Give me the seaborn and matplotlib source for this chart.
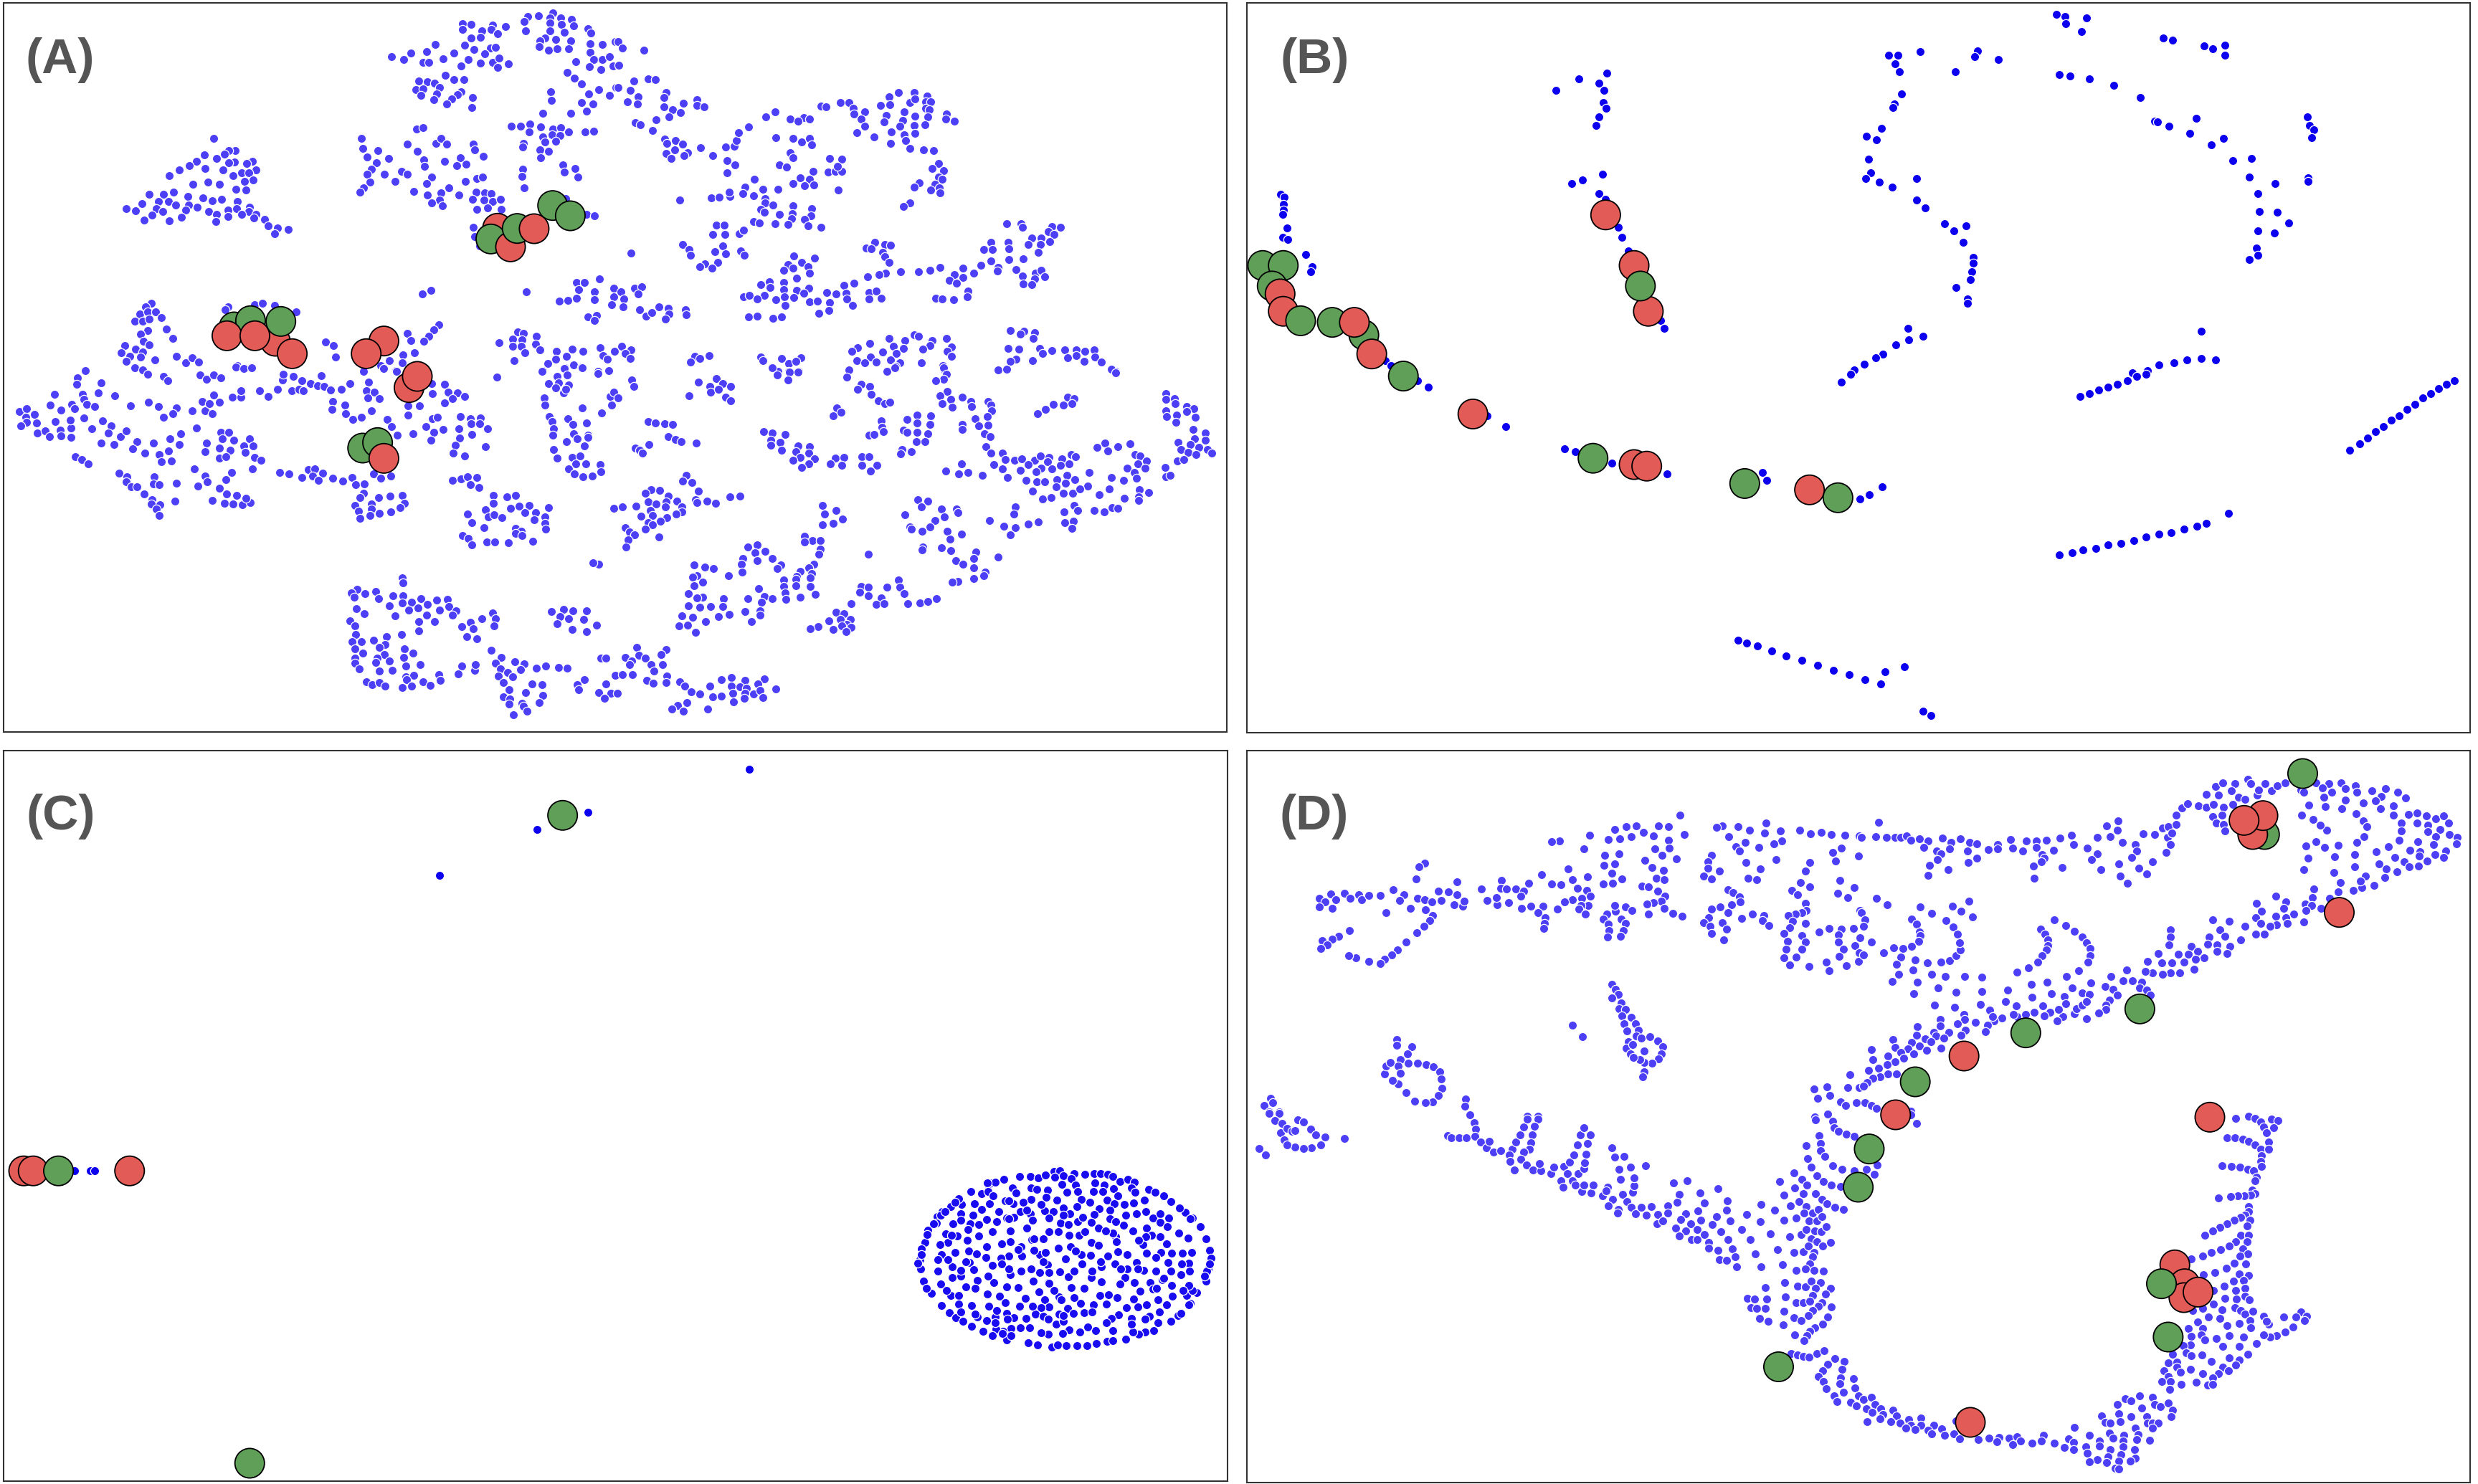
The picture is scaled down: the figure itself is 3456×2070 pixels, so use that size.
"""
Four embedding scatter panels (A-D) with blue background points and
highlighted red / green samples. Values are read off the reference picture,
each list in the scale of the crop it was read from.
"""
import matplotlib
matplotlib.use('Agg')
import matplotlib.pyplot as plt
import pandas as pd
import seaborn as sns

sns.set_theme(style='white')
plt.rcParams['font.family'] = ['Liberation Sans', 'DejaVu Sans']

# -------------------------------
# Panel A points
# -------------------------------
a_tl = [(1175,98),(1198,102),(1175,124),(1253,105),(1248,122),(1285,112),(1225,130),(1265,140),(1198,160),(1221,155),(1182,188),(1205,207),(1107,185),(1247,200),(1260,197),(1233,225),(1154,222),(1085,217),(1044,223),(996,238),(1026,248),(1075,260),(1090,262),(1126,246),(1190,249),(1173,277),(1221,265),(1252,260),(1269,242),(1266,283),(1292,268),
(1342,68),(1369,65),(1405,55),(1398,75),(1425,75),(1453,80),(1333,90),(1398,95),(1428,103),(1458,107),(1337,130),(1398,130),(1435,135),(1495,120),(1503,138),(1385,160),(1413,165),(1452,170),(1373,172),(1370,195),(1395,210),(1417,203),(1445,203),(1500,182),(1532,185),(1500,220),(1565,175),(1510,248),(1532,250),(1550,237),(1463,257),(1498,280),(1527,290),(1558,277),(1442,302),(1461,326),(1479,352),
(1400,385),(1401,420),(1497,393),(1523,376),(1550,400),(1566,365),(1479,430),(1508,434),(1492,464),(1380,473),(1451,475),
(1132,316),(1154,334),(1180,334),(1065,338),(1086,342),(1105,349),(1117,365),(1057,375),(1075,372),(1110,394),(1172,384),(1163,395),(1149,413),(1136,434),(1103,418),(1070,398),(1202,408),(1199,450),
(543,580),(598,630),(582,630),(571,645),(520,648),(551,662),(500,676),(481,694),(597,677),(582,682),(641,674),(627,684),(650,712),(456,712),(430,736),(522,706),(567,712),(614,724),(632,724),(593,735),(643,752),(622,758),(490,771),(528,761),(558,771),(600,791),(625,796),(441,803),(379,814),(416,813),(403,843),(428,843),(478,822),(516,827),(540,839),(563,834),(603,843),(361,853),(447,857),(321,874),(344,881),(398,872),(413,886),(479,858),(502,866),(473,880),(530,885),(580,879),(602,872),(635,866),(632,885),(651,897),(386,900),(367,920),(431,924),(462,909),(550,897),(548,927),(579,907),(615,898),(645,912),(672,918),(682,944),(706,954),(699,977),(732,960),
(1060,541),(1076,535),(918,580),(922,620),(961,631),(933,657),(1036,604),(1061,634),(1108,600),(1122,578),(1136,604),(1203,602),(1207,628),(1229,654),(988,664),(957,682),(1078,668),(1080,697),(1131,675),(1170,660),(1161,692),(1185,687),(945,708),(933,728),(977,729),(1021,716),(1036,729),(1004,758),(1097,740),(1084,768),(1184,760),(1212,748),(1226,741),(940,762),(925,785),(916,803),(1052,801),(1141,785),(1121,807),(1087,817),(1118,838),(1166,816),(1210,804),(1232,806),(1248,810),(1201,835),(1231,838),(1252,842),(1273,835),(1097,848),(1124,861),(1212,877),(1239,870),(1274,876),(1203,951),(1206,989),(1220,1030),
(1300,527),(1323,527),(1347,518),(1375,531),(1405,540),(1425,533),(1445,553),(1487,553),(1510,549),(1345,553),(1403,565),(1380,572),(1424,567),(1386,595),(1412,590),(1331,600),(1329,615),(1372,627),(1394,632),(1374,659),(1431,689),(1435,720),(1462,705),(1470,740),(1329,708),(1328,738),(1333,787),(1492,898),(1512,902),(1438,832),
(1073,1230),(1096,1215),(1338,1220),(1524,1167),(1465,1183),(1485,1182),(1472,1212),(1512,1220),(1560,1205),(1422,1260),(1443,1258),(1466,1248),(1511,1253),(1560,1243),(1555,1276),(1494,1325),(1517,1320),(1511,1340),
(385,1270),(370,1283),(356,1315),(375,1305),(396,1305),(411,1328),(343,1343),(363,1343),(379,1335),(423,1376),(376,1382),(357,1397),(439,1417),(365,1428),(380,1443),(317,1447),(344,1462),(308,1476),(330,1490),(362,1472),(358,1493),(393,1505),(321,1513),(449,1490),(473,1517),(489,1498),(505,1515),(343,1537),(365,1548),(216,1550),(603,1530),(620,1540),(640,1535),
(580,1285),(573,1297),(648,1275),(667,1268),(698,1278),(752,1304),(1115,1358),(1103,1381),(1091,1408),(1077,1427),(1036,1396),(1045,1425),(828,1431),(848,1445),(854,1494),(1053,1475),(1025,1485),(990,1510),(1023,1517),(968,1530),(1007,1550),(925,1550),
(1317,1390),(1331,1395),(1304,1420),(1327,1422),(1363,1407),(1304,1448),(1326,1450),(1361,1440),(1269,1433),(1334,1475),(1373,1463),(1414,1471),(1455,1462),(1483,1471),(1525,1455),(1562,1470),(1534,1487),(1544,1503),(1440,1490),(1413,1504),(1392,1520),(1308,1510),(1436,1540),(1459,1527),(1479,1535),(1380,1552),(1520,1555),(1548,1550)]

a_tr = [(3,173),(15,201),(69,209),(5,272),(43,340),(81,331),(99,334),(4,366),(35,379),(55,405),(28,427),(52,434),(126,388),(120,407),(120,446),(143,460),(169,433),(205,418),(204,442),(222,448),(163,470),(133,489),(100,500),(47,514),(61,522),(91,546),
(122,582),(128,600),(150,587),(167,604),(148,628),(125,642),(138,662),(181,639),(172,650),(214,618),(245,651),(277,614),(299,612),(305,588),(310,555),(336,532),(379,488),(403,468),(442,498),(475,492),(462,508),(491,497),(519,443),(533,446),(569,430),(591,428),(601,452),(604,478),(630,467),(621,498),(631,527),(611,555),(654,574),
(405,576),(449,580),(471,595),(491,578),(496,605),(441,640),(449,660),(413,690),(432,698),(281,671),(300,690),(281,723),(350,750),(499,716),(538,720),(556,718),(572,718),(541,664),(573,666),(562,695),(467,743),(491,750),(449,769),(477,777),(501,775),(563,796),(326,783),(372,793),(411,792),(161,836),(241,827),(261,824),(288,823),(287,804),(320,809),(349,818),(377,830),(378,850),(397,857),(448,860),(495,873),(367,875),(376,887),(414,898),(447,893),(494,902),(478,918),(445,915),(349,928),(363,932),(402,935),(436,940),(486,945),(520,951),(253,941),(274,942),(244,981),(276,981),(311,978),(323,962),
(167,1024),(184,1045),(187,1067),(36,1059),(250,1053),(270,1030),(277,1061),(315,1050),(324,1067),(257,1098),(225,1105),(211,1115),(242,1123),
(693,405),(717,386),(756,387),(790,402),(671,440),(694,439),(745,430),(758,415),(785,425),(798,425),(731,467),(786,452),(795,460),(685,484),(758,487),(791,488),(838,477),(836,497),(859,506),(680,510),(727,505),(720,527),(757,525),(784,522),(699,553),(731,565),(758,558),(735,587),(696,599),(745,622),(781,627),(806,630),(818,684),(802,704),(832,714),(818,740),(828,750),(769,764),(810,771),(757,783),(798,795),(820,785),(823,808),(745,848),(729,864),
(992,937),(1028,936),(1032,950),(1107,947),(1128,950),(1098,968),(1112,980),(1056,997),(1080,997),(1101,1010),(1078,1024),(1047,1023),(952,1013),(996,1015),(933,1043),(955,1045),(997,1042),(1072,1057),(656,1015),(682,1022),(696,1027),(634,1037),(647,1040),(677,1055),(681,1075),(692,1099),
(952,1092),(998,1087),(1033,1083),(926,1109),(970,1120),(968,1135),(1016,1128),(1032,1155),(1065,1142),(1080,1130),(1088,1158),(1062,1167),(1033,1188),(1056,1190),(450,1072),(504,1080),(470,1098),(436,1107),(449,1123),(424,1130),(486,1115),(490,1142),(457,1164),(907,1144),(880,1123),(881,1161),(858,1150),(846,1172),(865,1186),(822,1119),(796,1132),(768,1138),(722,1136),(684,1144),(668,1150),(638,1157),
(389,1178),(367,1192),(391,1203),(425,1183),(604,1185),(578,1194),(488,1205),(424,1212),(457,1215),(475,1228),(534,1224),(558,1230),(584,1228),(641,1224),(660,1218),(893,1218),(892,1242),(812,1247),(827,1252),(857,1253),(322,1243),(337,1235),(375,1236),(358,1252),(405,1255),(427,1243),(451,1245),(586,1250),(642,1250),(673,1247),(491,1262),(510,1259),(541,1267),(429,1277),(599,1279),(539,1299),(514,1311),(335,1326),(358,1323),(397,1333),(419,1325),
(11,1222),(45,1207),(63,1200),(55,1230),(18,1252),(16,1285),(58,1296),(75,1322),(90,1307),(107,1285),(131,1291),(133,1315),(124,1335),(175,1295),(176,1317),
(1001,1384),(1036,1387),(1026,1398),(1063,1392),(1060,1415),(757,1402),(768,1408),(693,1415),(732,1425),(802,1425),(838,1417),(797,1445),(643,1437),(613,1455),(704,1448),(730,1457),(851,1453),(779,1462),(598,1469),(677,1472),(841,1470),(711,1480),(851,1492),(995,1459),(1023,1460),(1075,1458),(1107,1466),(1140,1463),(1168,1465),(1190,1470),(1215,1465),(1146,1498),(1168,1488),(1216,1493),(1188,1512),(1232,1514),(1082,1480),(1016,1502),(1000,1512),(1058,1508),(610,1508),(645,1495),(630,1518),(660,1514),(697,1505),(720,1517),(709,1532),(774,1517),(830,1530),(688,1550),(591,1548),(833,1548),(970,1548),(992,1545),(1260,1545),(1268,1555),
(12,1449),(37,1463),(22,1480),(34,1499),(198,1492),(235,1487),(212,1500),(187,1514),(367,1495),(372,1510),(419,1501),(469,1496),(438,1522),(455,1512),(396,1537),(437,1553),(463,1553),(410,1555)]

a_bl = [(217,22),(197,50),(195,77),(257,71),(250,113),(291,127),(138,120),(210,120),(214,140),(183,163),(221,163),(127,166),(155,185),(190,180),(240,172),(331,168),(378,153),(402,170),(448,177),(440,202),(416,217),(489,190),(522,188),(540,200),(543,122),(514,150),(532,158),(557,152),(591,132),(612,132),(613,105),(660,105),(682,130),(705,99),(742,104),(760,100),(772,105),(718,60),(720,35),(746,44),(767,62),(790,76),(808,85),(824,88),(840,103),(867,100),(890,75),(816,41),(937,69),(932,105),(952,110),(936,135),(964,139),(846,151),(876,165),(844,183),(879,200),(897,225),(919,217),(945,189),(985,225),(996,255),(1010,290),(1050,285),(343,10),(362,18),(375,36),(415,45),(427,63),(508,40),(525,58),(543,38),(561,51),(600,7),(620,12),(640,10),(924,24),(976,12),(1008,24),
(50,192),(67,180),(87,203),(65,215),(68,238),(52,253),(93,240),(140,234),(95,281),(115,272),(125,297),(153,270),(155,293),(181,262),(180,300),(178,228),(213,218),(233,263),(261,231),(283,253),(276,281),(306,297),(320,272),(257,324),(290,329),(349,317),(390,323),(432,305),(459,285),(456,330),(337,349),(369,367),(404,373),(428,357),(410,403),(436,399),(500,261),(562,278),(581,278),(566,305),(594,312),(634,306),(525,325),(557,344),(585,355),(620,337),(643,337),(521,360),(623,362),(558,387),(575,380),(647,384),(663,397),(641,431),(494,432),(589,447),(192,380),(207,393),(224,412),(711,448),(734,452),(783,435),(800,432),(820,450),(768,467),(795,462),(810,480),(845,471),(871,484),(895,468),(905,497),(926,494),(949,453),(968,470),(994,462),
(303,451),(322,465),(320,485),(333,506),(348,506),(392,465),(390,495),(405,497),(449,492),(522,462),(527,487),(503,505),(575,478),(558,512),(367,536),(386,561),(385,580),(407,582),(398,600),(405,627),(445,567),(576,537),(601,543),(540,564),(571,575),(592,578),(617,582),(637,574),(625,555),
(925,533),(915,553),(962,553),(992,545),(1023,542),(903,585),(945,580),(1028,577),(1017,595),(912,610),(945,600),(965,617),(993,612),(940,628),(916,638),
(1038,168),(1067,168),(1037,208),(1098,76),(1131,78),(1100,117),(1140,110),(1163,115),(1151,137),(1181,129),(1131,157),(1100,222),(1112,215),(1083,255),(1103,278),(1127,267),(1095,311),(1170,213),(1195,222),(1222,220),(1197,243),(1220,244),(1166,265),(1240,263),(1199,287),(1169,303),(1157,332),(1234,339),(1152,367),(1181,378),(1264,48),
(1150,479),(1172,475),(1188,465),(1212,467),(1196,498),(1217,511),(1254,543),(1289,548),(1310,543),(1255,577),(1235,603),(1298,596),(1320,587),(1346,584),(1394,593),(1335,615),(1361,615),(1188,622),(1241,632),(1256,625),(1276,635),(1386,632),(1359,644),(1199,658),(1385,660),(1387,685),(1231,677),(1310,680),(1326,692),(1310,702),(1327,712),(1175,711),(1190,722),(1199,749),(1237,738),(1258,737),(1292,741),(1355,735),
(1379,24),(1435,12),(1416,45),(1442,40),(1521,32),(1480,10),(1394,76),(1420,72),(1445,80),(1412,93),(1433,113),(1438,100),(1384,136),(1385,165),(1480,178),(1397,214),(1403,235),(1443,222),(1529,198),(1457,246),(1492,240),(1408,265),(1406,290),(1458,285),(1495,290),(1494,300),(1441,318),(1468,307),(1485,335),(1408,352),(1417,388),(1455,385),(1475,378),(1463,412),(1490,411),(1525,415),(1527,445),(1445,432),(1460,452),(1482,465),(1505,462),(1551,130),(1555,165),(1561,112),
(1560,598),(1522,830),(1508,825),
(1023,888),(1025,910),(907,935),(893,950),(927,955),(956,945),(999,964),(963,975),(1024,962),(900,968),(1070,975),(1110,980),(1137,978),(1047,990),(1023,992),(990,1005),(1087,1000),(1063,1013),(1039,1022),(1141,1008),(1118,1022),(906,1017),(926,1037),(1160,1025),(1004,1047),(1084,1043),(1150,1045),(890,1067),(1064,1070),(1104,1070),(1225,1060),(1253,1035),(1259,1058),(1196,1075),(902,1090),(1174,1093),(1204,1102),(1256,1088),(1065,1110),(1186,1135),(1213,1142),(904,1125),(1021,1125),(982,1135),(895,1155),(919,1155),(949,1148),(979,1167),(964,1180),(902,1185),(1029,1185),(1050,1203),(923,1203),(978,1210),(903,1225),(958,1225),(1026,1222),(1249,1192),(1274,1222),(990,1237),(902,1245),(955,1242),(1031,1258),(1069,1252),(1259,1245),(913,1270),(964,1278),(998,1274),(1031,1302),(1052,1297),(1115,1293),(1120,1317),(932,1322),(947,1335),(965,1325),(979,1340),(1033,1315),(1076,1322),(1022,1347),(1046,1342),(1093,1337),
(1174,1256),(1165,1289),(1207,1275),(1209,1252),(1309,1240),(1333,1248),(1323,1272),(1272,1268),(1363,1267),(1387,1258),(1420,1264),(1442,1266),(1267,1300),(1290,1285),(1304,1303),(1280,1325),(1352,1332),(1378,1335),(1295,1357),(1336,1368),(1380,1380),(1280,1385),(1296,1395),(1371,1410),(1295,1417),(1327,1412),(1330,1425),(1340,1446),(1306,1460),
(1402,1030),(1433,1020),(1456,1025),(1491,1027),(1423,1050),(1445,1058),(1484,1062),(1417,1080),(1517,1087),(1455,1105),(1491,1112),
(1527,1223),(1540,1223),(1486,1314),(1468,1335),(1472,1355),(1541,1331),(1565,1297),(1522,1367),(1553,1370),(1537,1392)]

a_br = [(38,60),(44,87),(3,135),(207,68),(254,54),(270,76),(237,88),(289,87),(238,112),(258,100),(185,127),(277,133),(290,147),(396,8),(440,27),(462,27),(408,40),(436,60),(590,17),(585,47),(688,24),(708,8),(622,78),(644,86),(613,98),(648,120),(666,148),(682,160),(694,153),(832,8),(838,37),(832,58),(812,64),(970,18),(992,15),(1258,15),(1268,30),
(560,178),(551,210),(571,195),(840,107),(823,125),(849,142),(878,132),(828,160),(854,175),(900,150),(902,172),(945,150),(952,165),(953,190),(943,212),(912,222),(1147,133),(1163,137),(1157,160),(1135,165),(1110,163),(1090,182),(1071,200),(764,208),(799,209),(738,226),(672,232),(764,240),(797,245),(675,258),(679,275),(730,270),(764,280),(791,285),(878,245),(878,268),(921,253),(945,250),(641,290),(655,287),(738,280),(935,285),(949,297),(762,318),(783,319),(725,352),(749,361),(721,370),(939,340),(952,365),
(80,235),(98,240),(122,243),(143,245),(131,298),(150,308),(164,318),(202,324),(82,329),(47,345),(58,355),(66,367),
(373,277),(395,283),(428,289),(392,312),(415,322),(392,332),(420,353),(461,335),(490,340),(456,360),(489,365),(466,385),(503,390),(448,395),(488,412),(470,425),(556,388),(578,385),(543,410),(573,418),(623,382),(642,382),(623,418),(662,418),(645,440),
(1397,118),(1397,140),(1419,137),(1420,158),(1450,170),(1468,180),(1449,192),(1396,190),(1399,213),(1423,208),(1471,215),(1422,238),(1466,267),(1496,283),(1469,305),(1496,312),(1427,321),(1458,330),(1481,342),(1435,352),(1503,350),(1513,367),(1453,362),(1473,371),(1426,400),(1442,393),(1394,425),(1396,465),(1408,460),
(1222,342),(1242,323),(1248,358),(1275,339),(1306,328),(1318,372),(1331,378),(1348,400),(1326,410),(1298,428),(1344,429),(1317,447),(1322,470),(1258,468),(1289,481),(1202,446),(1197,503),(1253,517),(1226,539),(1290,555),(1329,520),(1352,531),(1328,548),(1328,565),(1215,606),(1239,613),(1259,593),(1275,597),
(981,365),(988,392),(1011,395),(1030,390),(1062,397),(1078,378),(1100,385),(1096,403),(1047,413),(1155,373),(1167,380),(1132,390),(1151,412),(1129,418),(1079,430),(1066,445),(1107,432),(958,415),(981,433),(1026,437),(877,412),(836,442),(870,452),(894,448),(930,458),(994,468),(1041,481),(1068,485),(1089,485),(1120,476),(1144,458),(1165,478),(1142,491),(1118,507),(1058,525),(1136,534),(1160,533),(1177,516),(1083,558),(1105,553),(1163,585),(1172,606),(1137,613),(1140,658),(1162,650),(1157,680),
(1014,590),(1010,622),(948,648),(985,673),(1014,678),(1047,664),(1072,655),(1001,709),
(766,560),(791,566),(774,590),(826,600),(865,600),(868,614),(733,623),(834,634),(809,648),(796,676),(745,675),(750,685),(776,692),(840,692),(877,705),(848,727),(778,760),(776,772),(825,762),(850,775),(913,780),(908,808),(969,802),(863,815),(880,830),(907,847),(937,865),(933,880),(908,890),(867,902),(853,907),(640,788),
(176,460),(168,482),(192,488),(207,525),(110,523),(87,520),(73,535),(131,547),(200,560),(204,574),(229,566),(252,576),(288,548),(313,545),(153,567),(126,570),(81,570),(100,578),(15,592),(50,587),(124,590),(166,590),(165,613),(85,605),(91,628),(62,631),(127,635),(151,622),(112,650),(80,657),(92,665),(22,678),(73,685),(33,697),(46,708),(107,718),(30,730),(24,760),
(524,586),(557,606),(528,622),(575,642),(551,660),(524,665),
(477,714),(497,733),(518,733),(478,738),(517,768),(514,788),(357,750),(333,758),(351,783),(377,776),(396,806),(321,808),(357,815),(417,835),(408,850),(317,830),(319,863),(197,833),(224,842),(246,850),(285,880),(205,880),(193,885),(218,907),(197,920),(502,832),(489,847),(466,860),(458,882),(496,870),(493,888),(424,897),(456,895),(424,925),(456,922),(492,925),(361,932),(183,955),(219,968),(204,972),(272,975),(334,974),(376,965),(395,976),(368,990),(429,950),(430,978),(467,968),(505,958),
(183,1006),(212,1011),(238,1008),(270,1008),(165,1046),(193,1054),(226,1072),(258,1051),(286,1042),(327,1029),(364,1026),(364,1044),(343,1071),(159,1090),(180,1087),(200,1117),
(717,897),(720,927),(731,955),(688,926),(622,925),(640,928),(618,948),(639,962),(672,973),(596,996),(660,1000),(680,996),(741,996),(771,992),(792,987),(813,975),
(558,1033),(578,1038),(594,1062),(540,1069),(568,1062),(585,1082),(572,1090),(596,1095),(551,1103),(584,1114),(512,1092),(493,1100),
(51,1180),(126,1188),(56,1212),(113,1210),(22,1222),(73,1225),(38,1235),(33,1250),(88,1250),(116,1252),(95,1278),(14,1293),(40,1293),(127,1298),(77,1318),(93,1330),(125,1327),(160,1323),(174,1342),(190,1365),(212,1373),(237,1341),(244,1385),(266,1315),(266,1383),(292,1306),(326,1318),(292,1340),(375,1310),(360,1332),(313,1345),(330,1350),(295,1372),(326,1370),(348,1375),(365,1360),(371,1388),(404,1354),(2,1372),(297,1407),(324,1393),(178,1411),(155,1422),(140,1437),(169,1445),(231,1437)]

a_big_top = [(1265,955),(1248,1000),(1298,1033),(1315,956),(1358,957),(1405,860),(1450,903),(595,1368),(637,1342),(577,1405),(700,1428),(648,1405),(714,1345),(743,1480),(976,1427),(931,1480)]
a_big_top_kind = ['r','g','r','g','r','g','g','g','g','r','r','r','g','r','r','r']
a_big_low = [(1040,92),(1061,45),(922,345),(960,322),(976,388)]
a_big_low_kind = ['r','r','g','g','r']

# -------------------------------
# Panel B points
# -------------------------------
b_l = [(921,306),(849,330),(900,348),(914,378),(791,378),(911,428),(918,452),(901,488),(894,524),(910,728),(859,753),(831,768),(901,810),(917,835),(949,952),(959,994),(975,1050),(1058,1342),(1066,1375),
(92,812),(100,826),(98,855),(98,880),(97,897),(108,954),(97,992),(110,1003),(155,1065),(171,1115),(168,1137),(358,1510),(372,1530),(1550,1547)]

b_r = [(496,61),(517,70),(573,76),(520,99),(560,132),(767,160),(792,168),(871,192),(893,203),(925,190),(925,230),(150,215),(69,232),(93,231),(86,267),(97,301),(295,212),(288,238),(349,250),(239,301),(504,313),(530,318),(580,330),(642,356),(709,407),(102,393),(84,435),(80,450),(51,537),(13,570),(38,586),(18,665),(23,723),(11,747),(46,763),(78,782),(141,746),(141,836),(163,871),(211,937),(235,966),(266,946),(259,1015),(284,1077),(285,1100),(280,1137),(278,1170),(241,1204),(270,1252),(270,1270),
(745,508),(753,510),(782,529),(852,494),(835,557),(921,578),(889,606),(944,671),(991,664),(986,742),(1051,767),(1008,809),(1012,885),(1058,887),(1087,933),(1009,967),(1050,974),(1004,1038),(1008,1068),(987,1085),
(1133,489),(1140,525),(1151,543),(1145,575),(1135,745),(1135,758),
(118,1373),(120,1421),(156,1408),(87,1443),(54,1481),(37,1497),(8,1523),(864,1386),(864,1499),(900,1505),(828,1505),(794,1517),(757,1528),(727,1550),(689,1560)]

b_low = [(1165,242),(1171,237),(1316,251),(1322,249),(1328,247),(1334,245),(1340,243),(1346,241),(1352,238),(1358,237),
(1487,285),(1493,281),(1498,277),(1503,273),(1508,270),(1513,266),(1518,263),(1523,259),(1528,256),(1533,252),(1538,249),(1543,246),(1548,243),(1553,241),
(1303,351),(1311,350),(1318,348),(1326,347),(1334,345),(1342,344),(1350,342),(1358,340),(1366,338),(1374,337),(1382,335),(1390,333),(1396,331),(1410,325),
(1100,405),(1105,407),(1112,409),(1121,412),(1130,415),(1140,418),(1150,421),(1160,424),(1170,427),(1180,430),(1190,433),(1193,425),(1205,422),(1217,450),(1222,453),
(897,241),(904,245),(941,263),(953,270),(990,284),(997,286),(1020,293),(1028,294),(1055,300),(1115,299),(1118,304),(1177,316),(1183,313),(1191,308)]

b_big = [(799,168),(812,168),(805,181),(810,186),(812,197),(823,203),(843,204),(863,212),(857,204),(868,224),(888,238),(932,262),(1008,290),(1034,294),(1042,295),(1104,306),(1145,310),(1163,315),(1016,136),(1034,168),(1043,197),(1038,181)]
b_big_kind = ['g','g','g','r','r','g','g','g','r','r','g','r','g','r','r','g','r','g','r','r','r','g']

# -------------------------------
# Panel C points
# -------------------------------
c_far = [(474,487),(372,514),(340,525),(278,554),(47,741),(57,741),(60,741)]
c_big = [(15,741),(21,741),(37,741),(82,741),(356,516),(158,926)]
c_big_kind = ['r','r','g','r','g','g']

c_disc = [(517,123),(562,124),(595,128),(625,118),(660,103),(685,100),(662,127),(700,120),(745,110),(790,113),(827,110),(855,112),(885,115),(905,122),(937,143),(970,135),(995,147),(733,132),(450,136),(395,150),(415,147),(313,186),(358,195),(385,180),(487,170),(502,193),(563,172),(587,178),(632,180),(694,157),(750,160),(715,188),(760,187),(830,150),(870,160),(825,186),(863,187),(908,175),(985,170),(1055,176),(1082,190),(1120,204),(1150,227),(928,205),(882,222),(913,237),(955,240),(993,235),(1038,222),(1000,190),(810,230),(774,218),(672,223),(626,210),(563,218),(530,230),(490,237),(455,225),(390,237),(328,238),(272,240),(228,248),(262,215),(358,262),(320,285),(270,280),(192,270),(172,290),(168,318),(238,322),(133,347),(310,320),(345,324),(378,303),(420,312),(463,298),(492,295),(520,270),(560,278),(570,305),(620,268),(658,270),(700,255),(757,250),(725,278),(638,298),(688,318),(720,325),(760,312),(850,258),(827,282),(893,265),(893,300),(960,285),(1005,278),(1043,270),(1073,298),(1104,278),(1140,298),(1208,272),(1238,298),(1273,334),(1297,384),(1105,316),(1047,338),(990,352),(952,326),(918,313),(1135,332),(845,338),(765,368),(678,355),(640,355),(722,368),(568,388),(545,338),(477,352),(403,354),(345,372),(297,390),(256,373),(207,363),(120,400),(215,400),(183,408),(105,425),(247,442),(303,435),(378,417),(335,448),(477,395),(440,405),(523,418),(615,385),(575,385),(815,400),(845,410),(917,375),(1068,369),(1103,375),(1182,361),(1220,380),(1032,407),(1135,405),(1312,432),(1235,442),(1197,445),(1152,443),(1108,440),(1047,445),(967,450),(927,438),(885,455),(812,452),(707,469),(678,422),(730,418),(600,450),(575,432),(525,457),(472,455),(437,465),(376,463),(305,482),(190,450),(173,470),(100,470),(103,510),(233,502),(175,520),(323,512),(403,495),(522,520),(565,510),(632,492),(685,522),(778,488),(858,502),(966,510),(1005,484),(1035,517),(1085,463),(1085,518),(1137,482),(1225,487),(1194,490),(1315,467),(1305,510),(1228,520),(1190,533),(1295,562),(1150,520),(1113,555),(1063,568),(997,568),(958,547),(935,574),(858,565),(815,545),(720,542),(635,567),(597,605),(572,560),(510,587),(478,535),(463,585),(407,567),(383,540),(340,558),(270,540),(235,547),(113,560),(186,574),(290,585),(330,592),(380,616),(432,625),(541,633),(620,638),(682,628),(732,588),(785,590),(853,622),(888,617),(925,630),(994,636),(1020,602),(1075,595),(1095,640),(1152,580),(1155,625),(1216,622),(1258,610),(147,612),(228,622),(262,622),(1012,670),(1048,660),(1130,660),(1230,655),(880,658),(826,660),(770,654),(717,676),(640,670),(605,672),(516,665),(455,652),(387,665),(315,663),(262,658),(190,662),(222,692),(250,713),(280,730),(340,712),(378,725),(415,712),(462,697),(493,713),(543,717),(583,700),(614,707),(668,740),(700,730),(740,695),(785,693),(820,690),(963,673),(930,703),(900,717),(985,717),(1058,708),(1100,690),(1178,705),(1095,735),(1150,728),(1077,767),(1042,773),(1015,783),(905,767),(833,767),(800,752),(768,775),(723,765),(695,780),(636,782),(605,777),(558,757),(520,757),(480,760),(447,770),(417,763),(314,749),(362,771),(403,790),(463,808),(553,820),(590,827),(650,836),(675,828),(710,830),(755,830),(797,832),(837,821),(883,812),(905,810),(960,803),(990,775),
(1230,300),(1185,255),(1300,520),(1318,465),(1310,490),(1290,540),(1240,600),(1225,660),(1190,695),(105,450),(90,485),(125,590),(210,600),(130,365),(155,320),(185,285),(205,270),(245,230),(380,150),(385,185),(405,205),(470,225),(605,240),(545,265),(470,300),(430,270),(300,345),(270,305),(230,370),(290,480),(270,515),(215,470),(440,490),(470,510),(510,430),(625,440),(615,480),(640,525),(600,525),(745,520),(820,520),(855,480),(915,490),(940,510),(1010,510),(1130,405),(1045,375),(1015,390),(905,360),(875,350),(815,315),(780,295),(700,285),(790,355),(775,450),(750,435),(920,395),(660,600),(640,570),(690,640),(745,630),(680,700),(635,720),(570,665),(420,685),(465,720),(415,735),(330,700),(270,690),(880,735),(985,740),(1040,720),(700,705),(480,790),(445,780),(1090,590),(1120,550),(1225,580),(1200,600)]

# -------------------------------
# Panel D points
# -------------------------------
d_tl = [(458,493),(443,508),(436,557),(540,571),(190,640),(205,655),(218,622),(232,645),(189,676),(223,681),(254,618),(268,640),(290,625),(297,645),(316,626),(345,628),(378,603),(405,625),(393,648),(421,680),(360,700),(440,640),(458,645),(476,655),(460,688),(477,710),(470,733),(456,757),(437,784),(410,822),(388,855),(374,877),(355,893),(345,912),(316,902),(283,888),(265,880),(266,775),(238,797),(222,810),(197,815),(210,835),(193,850),
(492,610),(518,612),(540,625),(499,647),(532,667),(555,672),(558,650),(602,600),(616,648),(641,665),(640,635),(653,563),(650,597),(665,600),(690,600),(710,610),(670,658),(702,630),(722,575),(755,541),(781,578),(804,583),(823,516),(834,561),(871,548),(845,597),(870,605),(878,630),(856,638),(833,645),(813,654),(873,670),(855,670),(795,684),(850,685),(866,705),(758,673),(745,700),(728,672),(703,680),(763,720),(762,745),(761,765),
(800,400),(780,403),(877,375),(863,433),(916,459),(951,453),(913,500),(940,495),(934,535),(959,557),(912,578),(936,575),(925,392),(953,390),(983,382),(941,350),(969,338),(995,335),(1014,362),(1040,378),(1052,335),(1078,338),(1107,291),(1118,373),(1078,395),(1042,431),(1080,430),(1061,460),(1098,473),(1018,480),(1035,510),(1065,522),(1046,555),(1066,560),(1010,587),(1027,592),(1050,610),(1068,630),(1060,652),(1040,657),(1022,663),(1067,682),(1027,705),(1088,702),(1112,715),(968,675),(985,690),(943,692),(940,668),(920,705),(911,725),(957,727),(925,747),(968,745),(926,773),(963,773),(955,797),(922,800),
(1215,335),(1199,342),(1255,340),(1230,380),(1284,353),(1325,325),(1322,366),(1361,357),(1411,355),(1438,370),(1465,364),(1492,373),(1526,375),(1562,378),(1365,400),(1345,412),(1308,425),(1272,405),(1248,423),(1258,442),(1495,447),(1517,430),(1560,463),(1350,478),(1503,484),(1274,490),(1186,460),(1178,485),(1178,512),(1206,525),(1166,547),(1187,558),(1310,515),(1280,555),(1302,562),(1425,525),(1436,490),(1413,572),(1436,592),(1391,607),(1406,625),(1513,563),(1550,594),(1508,618),(1534,635),
(1228,603),(1242,615),(1258,633),(1260,655),(1238,665),(1187,685),(1208,675),(1229,698),(1180,720),(1290,705),(1264,722),(1320,710),(1316,732),(1333,754),(1167,740),(1184,757),(1214,741),(1225,768),(1186,787),(1218,812),
(1425,660),(1427,690),(1417,700),(1400,705),(1381,710),(1392,735),(1425,743),(1385,763),(1370,785),(1460,780),(1485,765),(1417,795),(1516,768),(1548,765),(1510,792),(1380,818),(1425,823),(1377,852),(1417,853),(1510,822),(1522,852),(1551,838),(1511,882),(1562,867),(1370,887),(1401,885),(1386,917),(1434,925),(1478,905),(1530,920),(1486,942),(1560,903),(1565,690),(1565,805),
(934,1000),(943,1020),(950,1040),(934,1055),(957,1077),(951,1100),(968,1105),(958,1132),(983,1137),(965,1165),(993,1165),(971,1193),(1000,1190),(995,1215),(975,1240),(969,1265),(986,1250),(980,1290),(1008,1225),(1030,1218),(1050,1235),(1062,1260),(1060,1290),(1052,1310),(1035,1330),(1015,1325),(1005,1315),(988,1305),(1015,1278),(1015,1365),(1012,1385),(833,1170),(859,1218),
(387,1230),(387,1255),(425,1260),(413,1290),(395,1315),(415,1328),(440,1328),(461,1335),(480,1345),(495,1365),(500,1395),(502,1433),(493,1465),(478,1492),(460,1495),(432,1488),(411,1453),(390,1415),(376,1402),(355,1375),(360,1340),(370,1325),(390,1340),(395,1370),
(65,1475),(72,1495),(50,1505),(62,1532),(88,1533),(561,1480),(560,1510),(572,1545),(718,1550),(745,1550),
(1538,1378),(1448,1437),(1480,1427),(1534,1430),(1562,1430),(1456,1475),(1487,1465),(1515,1490),(1528,1505),(1555,1495),(1482,1540),(1450,1555)]

d_bl = [(62,8),(88,8),(77,38),(95,50),(92,90),(100,120),(108,72),(120,85),(135,35),(150,45),(168,75),(180,100),(204,108),(193,140),(170,152),(150,157),(128,150),(108,140),(254,115),(36,155),(53,182),(128,80),
(572,15),(583,48),(587,75),(515,102),(525,110),(545,110),(563,112),(585,105),(600,130),(615,152),(632,172),(650,165),(622,125),(680,158),(690,130),(700,100),(710,65),(718,33),(746,32),(737,62),(731,100),(728,132),(724,158),(710,170),(673,183),(675,210),(702,200),(716,225),(686,245),(733,245),(753,250),(750,220),(778,262),(785,235),(811,232),(825,213),(820,262),(848,262),(862,240),(865,215),(837,182),(867,180),(845,140),(871,135),(853,100),(878,98),(862,68),
(804,290),(810,318),(833,292),(840,310),(857,335),(863,310),(880,342),(886,310),(922,318),(910,355),(918,332),(961,347),(986,340),(990,312),(955,285),(990,280),(933,153),(941,193),(965,188),(952,243),(980,233),(1019,227),(935,370),(924,395),(950,410),(948,425),(972,378),(982,403),(994,428),(1008,403),(1020,435),(1033,399),(1050,433),(1048,470),(1062,460),(1076,395),(1075,425),(1091,300),(1124,291),(1105,347),(1100,382),(1158,342),(1203,325),(1168,385),(1227,376),(1153,416),(1225,415),(1122,428),(1108,452),(1133,470),(1159,455),(1199,440),(1234,460),(1188,473),(1095,490),(1122,502),(1151,495),(1104,523),(1135,537),(1150,537),(1169,515),(1211,505),(1229,536),(1180,548),(1180,573),(1203,582),(1240,577),(1247,610),(1207,622),(1225,625),(1250,650),
(1312,390),(1347,413),(1276,433),(1310,462),(1263,496),(1337,512),(1285,536),(1354,578),(1298,597),(1313,650),(1368,642),(1397,592),(1420,588),(1386,525),(1414,516),(1370,455),(1402,448),(1388,397),(1409,378),(1420,345),(1371,351),(1360,294),(1399,320),(1397,257),(1416,285),(1430,310),(1452,345),(1467,370),(1481,387),(1501,403),(1523,410),(1427,400),(1422,427),(1443,427),(1458,412),(1435,460),(1455,460),(1468,442),(1428,495),(1449,500),(1465,503),(1479,484),(1440,534),(1455,545),(1470,563),(1489,550),(1432,565),(1447,590),(1443,610),(1437,640),(1402,665),(1425,660),(1447,665),(1471,670),(1372,716),(1405,732),(1425,735),(1463,718),(1441,710),(1490,742),(1452,740),(1477,765),(1443,770),(1324,737),(1278,783),(1297,785),(1327,785),(1374,777),(1401,800),(1421,800),(1436,795),(1468,800),(1458,815),(1492,820),(1444,835),(1287,823),(1302,825),(1324,825),(1370,838),(1432,855),(1397,864),(1415,875),(1482,860),(1309,866),(1331,878),(1369,895),(1470,890),(1450,905),(1437,920),(1398,935),(1430,940),(1422,960),
(1390,1015),(1405,1020),(1420,1025),(1435,1030),(1455,1015),(1473,1002),(1500,1034),(1524,1047),(1483,1060),(1519,1080),(1470,1085),(1458,1110),(1515,1115),(1547,1118),(1472,1130),(1514,1140),(1551,1157),(1478,1160),(1523,1175),(1498,1190),(1560,1190),(1505,1215),(1540,1217),(1555,1232),
(1451,37),(1482,12),(1494,42),(1499,68),(1510,85),(1530,95),(1550,105),(1460,102),(1428,144),(1463,135),(1463,165),(1475,190),(1495,228),(1519,244),(1431,197),(1440,235),(1455,270),(1471,295),(1492,310),(1515,315),(1550,250)]

d_tr = [(44,320),(0,385),(36,380),(64,385),(85,385),(100,385),(115,378),(125,395),(147,390),(170,398),(206,388),(228,405),(251,390),(275,405),(294,410),(346,413),(379,392),(419,398),(445,398),(470,395),(505,388),(534,376),(323,436),(346,432),(385,430),(410,440),(445,425),(488,438),(540,414),(158,425),(192,440),(203,452),(225,432),(270,440),(293,470),(194,478),(272,490),(173,500),(220,518),(169,544),(460,455),(465,470),(458,485),(438,505),(510,510),(440,555),(575,430),(600,385),(600,452),(585,478),(608,518),(623,337),(652,316),(650,355),(633,380),(663,405),(697,415),(700,440),(687,469),(655,494),(705,512),(741,485),(725,537),(658,547),(677,577),(716,370),(745,373),(765,346),(780,340),(800,330),(778,385),(785,415),(775,447),(790,365),(800,290),(815,260),(830,242),(856,253),(877,258),(877,205),(908,207),(901,172),(918,155),(950,160),(940,190),(958,215),(976,225),(1006,207),(1010,185),(982,140),(990,158),(1026,160),(1043,190),(1057,167),(1078,155),(895,245),(920,258),(945,245),(893,298),(917,290),(903,325),(920,330),(924,357),
(1118,185),(1125,195),(1155,155),(1188,160),(1173,178),(1220,155),(1195,195),(1175,215),(1137,248),(1180,256),(1256,168),(1230,180),(1260,195),(1230,227),(1221,265),(1277,240),(1298,190),(1332,180),(1363,195),(1322,213),(1307,230),(1384,220),(1352,252),(1320,265),(1258,285),(1352,290),(1277,315),(1391,287),(1413,283),(1437,293),(1460,305),(1481,295),(1372,323),(1413,323),(1286,340),(1493,325),(1440,332),(1472,350),(1373,358),(1278,382),(1259,405),(1367,395),(1440,360),(1460,380),(1495,372),(1515,385),(1414,402),(1513,410),(1340,423),(1309,445),(1395,437),(1455,415),(1485,440),(1420,445),(1458,455),(1356,467),(1418,463),(1480,468),(1438,482),(1380,485),(1393,508),(1416,505),(1316,495),(1335,515),(1255,508),(1361,528),(1330,553),(1281,545),(1303,584),(1273,595),(1250,605),(1268,567),(1213,612),(1217,574),(1201,530),(1204,465),(1254,455),(1212,418),(1177,427),(1136,472),(1130,420),(1124,519),(1156,402),(1183,355),(1167,332),(1148,308),(1119,290),
(1151,600),(1147,635),(1053,630),(1004,660),(1018,692),(1080,655),(1073,682),(1128,662),(1145,670),(1130,690),(1168,682),(1190,640),(1100,705),(1053,715),(1080,720),(1125,737),(1002,721),(1083,745),(1055,750),(1040,755),(1015,745),(975,757),(1003,790),(1025,788),(965,812),(893,728),(935,736),(911,770),(885,800),(925,798),(785,772),(785,802),(782,833),(838,840),(880,830),(905,835),(937,840),(905,862),(930,870),(754,870),(805,873),(832,872),(855,860),(872,888),(727,904),(763,910),(790,910),(820,906),(850,895),(846,936),(809,952),(785,950),(765,958),(740,952),(721,945),(674,940),(634,966),(666,985),(690,985),(712,990),(708,1015),(725,1022),(734,1045),
(491,728),(519,752),(541,778),(561,800),(573,825),(582,848),(582,880),(576,907),(552,942),(521,965),(584,994),(456,767),(467,790),(474,812),(474,838),(470,855),(460,880),(448,905),(425,930),(395,947),(472,990),(432,1000),(372,1022),(536,1015),(484,1037),(433,1052),(366,1072),(562,1035),(580,1042),(515,1050),(620,1008),(640,1020),(650,1045),(631,1065),(622,1085),(621,1105),(603,1120),(572,1142),(513,1135),(498,1152),(541,1122),(547,1100),(561,1085),(572,1070),(520,1080),(502,1105),(480,1115),(464,1130),(440,1115),(462,1090),(393,1090),(418,1125),(395,1135),(358,1140),(386,1125),(338,1152),
(38,640),(65,665),(150,675),(178,703),(231,671),(253,693),(273,650),(282,717),(216,731),(233,760),(127,725),(140,748),(148,780),(150,795),(145,820),(128,840),(106,848),(82,846),(25,822),(56,868),(5,875),(100,885),(136,896),(167,910),(203,907),(224,900),(241,880),(252,855),(250,825),(245,790),(0,700),(10,730),(5,755),(90,915),(132,940),(178,957),(213,966),(263,965),(306,970),(94,956),(78,988),(142,990),(195,1013),(241,1033),(306,1030),(133,1038),(186,1087),(237,1095),(303,1083),
(327,1108),(333,1135),(290,1158),(320,1170),(315,1197),(260,1125),(262,1145),(245,1165),(200,1145),(143,1175),(200,1172),(265,1190),(222,1200),(185,1200),(190,1215),(140,1212),(253,1212),(210,1225),(162,1228),(128,1242),(177,1240),(147,1257),(165,1275),(202,1265),(80,1230),(85,1262),(118,1270),(25,1272),(100,1285),(133,1290),(68,1300),(30,1315),(107,1308),(85,1322),(66,1335),(44,1350),(18,1360),(68,1375),(90,1375),(48,1385),(30,1393),(15,1410),(5,1425),
(10,1495),(25,1505),(38,1517),(125,1530)]

d_br = [(952,30),(985,22),(1000,30),(1015,45),(1043,32),(1060,40),(1022,65),(1048,68),(1030,90),(930,110),(950,110),(970,118),(985,125),(1000,140),(1015,160),(1035,130),(1035,158),(1018,185),(1015,210),(1017,232),(917,228),(940,230),(962,235),(982,243),(998,250),(1005,275),(1000,290),(993,330),(1000,345),(990,352),(973,353),(957,355),(938,358),(907,362),(985,400),(985,420),(975,435),(965,443),(948,455),(930,470),(911,487),(893,502),(873,518),(988,455),(980,480),(965,520),(985,520),(980,545),(952,545),(936,563),(913,580),(890,592),(867,605),(838,617),(970,575),(983,597),(963,607),(977,640),(948,635),(927,657),(898,676),(870,685),(960,680),(985,688),(971,707),(946,712),(923,732),(895,750),(976,742),(952,750),(976,775),(925,783),(953,787),(987,790),(895,808),(867,825),(843,835),(917,830),(950,822),(965,835),(975,848),(996,838),(883,860),(911,868),(855,882),(930,898),(961,887),(988,875),(989,905),(1022,858),(1035,890),(1030,880),(831,910),(867,908),(1073,860),(1118,840),(1105,860),(1132,857),(1127,877),(1097,903),(1078,925),(1055,940),(1040,945),(1022,935),(838,942),(865,935),(874,958),(903,950),(936,940),(972,946),(1004,973),(918,985),(960,983),(836,978),(818,980),(982,1017),(792,1018),(825,1010),(839,1024),(866,1020),(936,1033),(960,1040),(890,1048),(951,1062),(918,1070),(933,1085),(780,1052),(802,1050),(770,1085),(803,1070),(811,1093),(837,1080),(867,1097),(907,1097),(893,1117),(780,1110),(763,1130),(785,1132),(813,1142),(851,1135),(880,1145),(893,1143),(783,1165),
(707,1190),(741,1196),(671,1203),(650,1227),(686,1213),(745,1228),(712,1243),(760,1237),(780,1220),(792,1250),(655,1265),(610,1275),(685,1278),(726,1278),(788,1278),(620,1303),(632,1305),(658,1300),(727,1305),(740,1305),(755,1305),(697,1325),(740,1325),(542,1323),(630,1347),(667,1355),(703,1352),(580,1355),(605,1380),(640,1368),(665,1380),(700,1375),(732,1378),(527,1370),(463,1355),(605,1400),(570,1405),(633,1415),(665,1405),(695,1415),(575,1430),(628,1445),(660,1437),(600,1458),(697,1452),(580,1467),(624,1470),(655,1465),(684,1465),(645,1495),(655,1497),
(6,1205),(25,1197),(35,1228),(12,1245),(50,1245),(28,1260),(80,1250),(55,1270),(90,1275),(48,1288),(14,1300),(75,1300),(120,1290),(152,1285),(98,1305),(125,1315),(113,1327),(152,1315),(136,1332),(185,1315),(170,1335),(178,1350),(205,1330),(212,1357),(235,1350),(250,1370),(240,1295),(297,1375),(324,1368),(350,1365),(345,1383),(375,1368),(396,1363),(405,1380),(385,1395),(434,1390),(458,1380),(490,1390),(515,1407),(540,1385),(540,1415),
(141,52),(40,225),(12,243),(32,263),(125,15)]

d_big_tr = [(1122,117),(1025,372),(995,372),(1021,293),(973,313),(1215,698),(708,1102),(418,1202),(261,1299),(137,1407),(87,1545),(886,1555)]
d_big_tr_kind = ['g','g','r','r','r','r','g','g','r','g','r','r']
d_big_br = [(20,158),(-8,318),(797,643),(822,722),(820,780),(763,722),(856,757),(780,945),(277,1302)]
d_big_br_kind = ['g','g','r','r','r','g','r','g','r']
d_big_bl = [(1356,1068)]
d_big_bl_kind = ['g']

panel_labels = ['(A)', '(B)', '(C)', '(D)']

# crop scale of the readings: wide crops were shown 1.823x across, 3x down
WIDE = (1.823, 3.0)
TRUE = (3.0, 3.0)
SHRUNK = (1568 / 3456, 1568 / 3456)

# panel boxes in reference pixels: left, top, right, bottom
boxes = {'A': (5, 4, 1711, 1021), 'B': (1739, 4, 3445, 1022),
         'C': (5, 1047, 1712, 2066), 'D': (1739, 1047, 3445, 2068)}

BLUE_SOFT = '#4c3ff6'
BLUE_HARD = '#0d00ee'
palette = {'r': '#e35b56', 'g': '#5f9f58'}


def frame(points, x0=0, y0=0, scale=WIDE, kinds=None):
    df = pd.DataFrame(points, columns=['x', 'y'])
    df['x'] = x0 + df['x'] / scale[0]
    df['y'] = y0 + df['y'] / scale[1]
    if kinds is not None:
        df['kind'] = kinds
    return df


def small(ax, df, color):
    sns.scatterplot(data=df, x='x', y='y', ax=ax, s=78, color=color,
                    edgecolor='white', linewidth=0.9, legend=False, zorder=2)


def big(ax, df):
    sns.scatterplot(data=df, x='x', y='y', hue='kind', palette=palette, ax=ax,
                    s=880, edgecolor='black', linewidth=1.3, legend=False, zorder=3)


fig = plt.figure(figsize=(34.56, 20.70), dpi=100, facecolor='white')
axes = {}
for name, (l, t, r, b) in boxes.items():
    ax = fig.add_axes([l / 3456, 1 - b / 2070, (r - l) / 3456, (b - t) / 2070])
    ax.set_xlim(l, r)
    ax.set_ylim(b, t)
    ax.set_xticks([])
    ax.set_yticks([])
    for side in ax.spines.values():
        side.set_linewidth(1.5)
        side.set_color('#333333')
    axes[name] = ax

# Panel A
blue_a = pd.concat([frame(a_tl, 0, 0), frame(a_tr, 860, 0), frame(a_bl, 0, 510), frame(a_br, 860, 510)])
small(axes['A'], blue_a, BLUE_SOFT)
big(axes['A'], frame(a_big_top, 0, 0, kinds=a_big_top_kind))
big(axes['A'], frame(a_big_low, 0, 510, kinds=a_big_low_kind))

# Panel B
blue_b = pd.concat([frame(b_l, 1736, 0), frame(b_r, 2596, 0), frame(b_low, scale=SHRUNK)])
small(axes['B'], blue_b, BLUE_HARD)
big(axes['B'], frame(b_big, scale=SHRUNK, kinds=b_big_kind))

# Panel C
small(axes['C'], frame(c_far, scale=SHRUNK), BLUE_HARD)
small(axes['C'], frame(c_disc, 1250, 1600, scale=TRUE), '#1a0cf0')
big(axes['C'], frame(c_big, scale=SHRUNK, kinds=c_big_kind))

# Panel D
blue_d = pd.concat([frame(d_tl, 1736, 1040), frame(d_tr, 2596, 1040), frame(d_bl, 1736, 1550), frame(d_br, 2596, 1550)])
small(axes['D'], blue_d, BLUE_SOFT)
big(axes['D'], frame(d_big_tr, 2596, 1040, kinds=d_big_tr_kind))
big(axes['D'], frame(d_big_br, 2596, 1550, kinds=d_big_br_kind))
big(axes['D'], frame(d_big_bl, 1736, 1550, kinds=d_big_bl_kind))

# panel letters
for name, label, (tx, ty) in zip('ABCD', panel_labels, [(36, 102), (1786, 102), (36, 1157), (1785, 1157)]):
    axes[name].text(tx, ty, label, fontsize=50, fontweight='bold', color='#555555',
                    ha='left', va='baseline', zorder=5)

fig.savefig('out.png', dpi=100)
plt.close(fig)
